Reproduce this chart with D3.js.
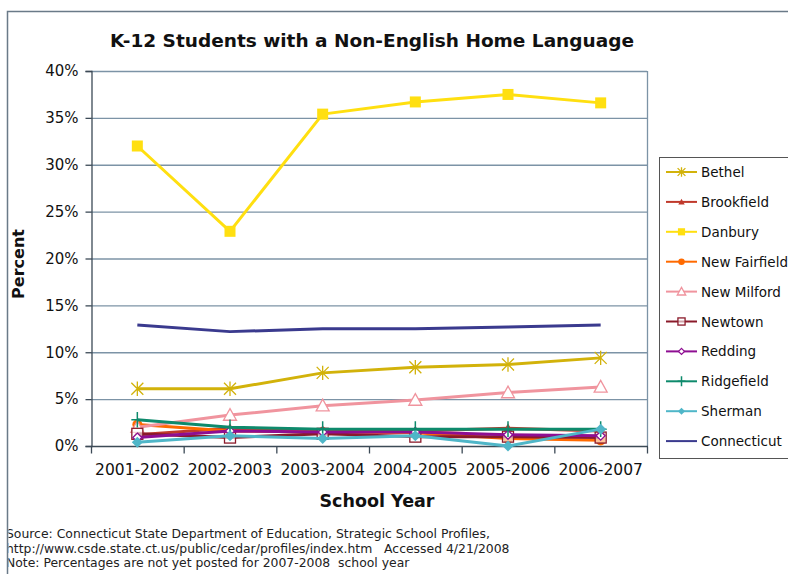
<!DOCTYPE html>
<html>
<head>
<meta charset="utf-8">
<script src="https://cdn.jsdelivr.net/npm/d3@7"></script>
<style>
  html, body { margin: 0; padding: 0; background: #fff; }
  svg { display: block; }
</style>
</head>
<body>
<svg id="chart" width="788" height="574"></svg>
<script>
// School years on the x axis
const years = ["2001-2002", "2002-2003", "2003-2004", "2004-2005", "2005-2006", "2006-2007"];

// Percent of K-12 students with a non-English home language, per district
const bethel       = [6.1, 6.1, 7.8, 8.4, 8.7, 9.4];
const brookfield   = [1.2, 1.9, 1.7, 1.6, 1.9, 1.6];
const danbury      = [32.0, 22.9, 35.4, 36.7, 37.5, 36.6];
const newFairfield = [2.3, 1.6, 1.5, 1.4, 0.8, 0.6];
const newMilford   = [2.0, 3.3, 4.3, 4.9, 5.7, 6.3];
const newtown      = [1.3, 0.9, 1.3, 1.0, 1.0, 0.9];
const redding      = [0.9, 1.6, 1.5, 1.5, 1.2, 1.1];
const ridgefield   = [2.8, 2.0, 1.8, 1.8, 1.8, 1.8];
const sherman      = [0.4, 1.1, 0.8, 1.1, 0.0, 1.8];
const connecticut  = [12.9, 12.2, 12.5, 12.5, 12.7, 12.9];

// Y axis tick values (percent)
const yTicks = [0, 5, 10, 15, 20, 25, 30, 35, 40];

const seriesNames = ["Bethel", "Brookfield", "Danbury", "New Fairfield", "New Milford",
                     "Newtown", "Redding", "Ridgefield", "Sherman", "Connecticut"];
const seriesValues = [bethel, brookfield, danbury, newFairfield, newMilford,
                      newtown, redding, ridgefield, sherman, connecticut];

// Styling per series: line colour and marker type
const styles = {
  "Bethel":        { color: "#d2b20a", marker: "asterisk" },
  "Brookfield":    { color: "#c0392b", marker: "triangleFilled" },
  "Danbury":       { color: "#ffdf10", marker: "squareFilled" },
  "New Fairfield": { color: "#ff6a00", marker: "circle" },
  "New Milford":   { color: "#f0949e", marker: "triangleOpen" },
  "Newtown":       { color: "#8a1a2a", marker: "squareOpen" },
  "Redding":       { color: "#8e0e92", marker: "diamondOpen" },
  "Ridgefield":    { color: "#0e8a6c", marker: "plus" },
  "Sherman":       { color: "#4fb6c8", marker: "diamondFilled" },
  "Connecticut":   { color: "#3a3a8e", marker: "none" }
};

const svg = d3.select("#chart");

// Outer chart frame
svg.append("rect")
  .attr("x", 7.5).attr("y", 11.5)
  .attr("width", 800).attr("height", 600)
  .attr("fill", "#fff")
  .attr("stroke", "#6a7a88").attr("stroke-width", 1.5);

const plot = { left: 91, right: 647, top: 71, bottom: 446 };

const x = d3.scaleBand().domain(years).range([plot.left, plot.right]);
const y = d3.scaleLinear().domain([0, 40]).range([plot.bottom, plot.top]);

// Horizontal gridlines
svg.append("g")
  .selectAll("line")
  .data(yTicks.filter(d => d > 0))
  .join("line")
  .attr("x1", plot.left).attr("x2", plot.right)
  .attr("y1", d => y(d) + 0.5).attr("y2", d => y(d) + 0.5)
  .attr("stroke", "#7c93a6").attr("stroke-width", 1.3);

// Right border of plot area
svg.append("line")
  .attr("x1", plot.right + 0.5).attr("x2", plot.right + 0.5)
  .attr("y1", plot.top).attr("y2", plot.bottom)
  .attr("stroke", "#7c93a6").attr("stroke-width", 1.3);

// Y axis
const yAxis = svg.append("g")
  .attr("transform", `translate(${plot.left + 0.5},0)`)
  .call(d3.axisLeft(y).tickValues(yTicks).tickFormat(d => d + "%").tickSize(6).tickPadding(7));
yAxis.select(".domain").attr("stroke", "#3c4a56").attr("stroke-width", 1.3);
yAxis.selectAll(".tick line").attr("stroke", "#3c4a56").attr("stroke-width", 1.3);
yAxis.selectAll(".tick text")
  .attr("font-family", "DejaVu Sans, Verdana, sans-serif")
  .attr("font-size", 15).attr("fill", "#111");

// X axis: ticks at category boundaries
const xAxisG = svg.append("g")
  .attr("transform", `translate(0,${plot.bottom + 0.5})`);
xAxisG.append("line")
  .attr("x1", plot.left).attr("x2", plot.right + 1)
  .attr("stroke", "#3c4a56").attr("stroke-width", 1.3);
const boundaries = years.map(d => x(d)).concat([x(years[years.length - 1]) + x.bandwidth()]);
xAxisG.selectAll("line.tk")
  .data(boundaries)
  .join("line").attr("class", "tk")
  .attr("x1", d => d + 0.5).attr("x2", d => d + 0.5)
  .attr("y1", 0).attr("y2", 7)
  .attr("stroke", "#3c4a56").attr("stroke-width", 1.3);
xAxisG.selectAll("text")
  .data(years)
  .join("text")
  .attr("x", d => x(d) + x.bandwidth() / 2)
  .attr("y", 28)
  .attr("text-anchor", "middle")
  .attr("font-family", "DejaVu Sans, Verdana, sans-serif")
  .attr("font-size", 15.5).attr("fill", "#111")
  .text(d => d);

// Series lines and markers
const line = d3.line()
  .x((d, i) => x(years[i]) + x.bandwidth() / 2)
  .y(d => y(d));

function drawMarker(g, type, color, size) {
  const s = size;
  switch (type) {
    case "asterisk":
      g.append("path")
        .attr("d", `M${-s},${-s}L${s},${s}M${-s},${s}L${s},${-s}M0,${-s * 1.2}L0,${s * 1.2}`)
        .attr("stroke", color).attr("stroke-width", 1.3).attr("fill", "none");
      break;
    case "plus":
      g.append("path")
        .attr("d", `M${-s},0L${s},0M0,${-s * 1.3}L0,${s * 1.3}`)
        .attr("stroke", color).attr("stroke-width", 1.5).attr("fill", "none");
      break;
    case "triangleFilled":
      g.append("path").attr("d", `M0,${-s}L${s},${s * 0.8}L${-s},${s * 0.8}Z`).attr("fill", color);
      break;
    case "triangleOpen":
      g.append("path").attr("d", `M0,${-s}L${s},${s * 0.8}L${-s},${s * 0.8}Z`)
        .attr("fill", "#fff").attr("stroke", color).attr("stroke-width", 1.3);
      break;
    case "squareFilled":
      g.append("rect").attr("x", -s).attr("y", -s).attr("width", 2 * s).attr("height", 2 * s).attr("fill", color);
      break;
    case "squareOpen":
      g.append("rect").attr("x", -s).attr("y", -s).attr("width", 2 * s).attr("height", 2 * s)
        .attr("fill", "#fff").attr("fill-opacity", 0.6).attr("stroke", color).attr("stroke-width", 1.3);
      break;
    case "circle":
      g.append("circle").attr("r", s).attr("fill", color);
      break;
    case "diamondFilled":
      g.append("path").attr("d", `M0,${-s}L${s},0L0,${s}L${-s},0Z`).attr("fill", color);
      break;
    case "diamondOpen":
      g.append("path").attr("d", `M0,${-s}L${s},0L0,${s}L${-s},0Z`)
        .attr("fill", "#fff").attr("stroke", color).attr("stroke-width", 1.3);
      break;
  }
}

const markerSize = {
  asterisk: 6, plus: 6, triangleFilled: 5, triangleOpen: 6.5, squareFilled: 5.5,
  squareOpen: 5.5, circle: 5, diamondFilled: 5.5, diamondOpen: 4.5, none: 0
};

const seriesG = svg.append("g");
seriesNames.forEach((name, si) => {
  const st = styles[name];
  const vals = seriesValues[si];
  const g = seriesG.append("g");
  g.append("path")
    .datum(vals)
    .attr("d", line)
    .attr("fill", "none")
    .attr("stroke", st.color)
    .attr("stroke-width", 3)
    .attr("stroke-linejoin", "round");
  if (st.marker !== "none") {
    vals.forEach((v, i) => {
      const mg = g.append("g")
        .attr("transform", `translate(${x(years[i]) + x.bandwidth() / 2},${y(v)})`);
      drawMarker(mg, st.marker, st.color, markerSize[st.marker]);
    });
  }
});

// Title
svg.append("text")
  .attr("x", 372).attr("y", 47)
  .attr("text-anchor", "middle")
  .attr("font-family", "DejaVu Sans, Verdana, sans-serif")
  .attr("font-weight", "bold").attr("font-size", 18.5)
  .attr("fill", "#111")
  .text("K-12 Students with a Non-English Home Language");

// Axis titles
svg.append("text")
  .attr("transform", "translate(24,264) rotate(-90)")
  .attr("text-anchor", "middle")
  .attr("font-family", "DejaVu Sans, Verdana, sans-serif")
  .attr("font-weight", "bold").attr("font-size", 16)
  .attr("fill", "#111")
  .text("Percent");

svg.append("text")
  .attr("x", 377).attr("y", 507)
  .attr("text-anchor", "middle")
  .attr("font-family", "DejaVu Sans, Verdana, sans-serif")
  .attr("font-weight", "bold").attr("font-size", 17.5)
  .attr("fill", "#111")
  .text("School Year");

// Legend
const legend = svg.append("g");
legend.append("rect")
  .attr("x", 659.5).attr("y", 157.5)
  .attr("width", 140).attr("height", 301)
  .attr("fill", "#fff").attr("stroke", "#555").attr("stroke-width", 1);
seriesNames.forEach((name, i) => {
  const st = styles[name];
  const ly = 172 + i * 29.9;
  const g = legend.append("g").attr("transform", `translate(0,${ly})`);
  g.append("line")
    .attr("x1", 666).attr("x2", 697).attr("y1", 0).attr("y2", 0)
    .attr("stroke", st.color).attr("stroke-width", 2);
  if (st.marker !== "none") {
    const mg = g.append("g").attr("transform", "translate(681.5,0)");
    drawMarker(mg, st.marker, st.color, Math.max(3, markerSize[st.marker] * 0.65));
  }
  g.append("text")
    .attr("x", 701).attr("y", 5)
    .attr("font-family", "DejaVu Sans, Verdana, sans-serif")
    .attr("font-size", 13.5).attr("fill", "#111")
    .text(name);
});

// Source notes
const notes = [
  "Source: Connecticut State Department of Education, Strategic School Profiles,",
  "http://www.csde.state.ct.us/public/cedar/profiles/index.htm   Accessed 4/21/2008",
  "Note: Percentages are not yet posted for 2007-2008  school year"
];
const clip = svg.append("clipPath").attr("id", "frameClip");
clip.append("rect").attr("x", 8.5).attr("y", 12).attr("width", 800).attr("height", 600);
svg.append("g").attr("clip-path", "url(#frameClip)")
  .selectAll("text")
  .data(notes)
  .join("text")
  .attr("x", 6).attr("y", (d, i) => 538 + i * 14.5)
  .attr("xml:space", "preserve")
  .style("white-space", "pre")
  .attr("font-family", "DejaVu Sans, Tahoma, sans-serif")
  .attr("font-size", 12.4).attr("fill", "#222")
  .text(d => d);
</script>
</body>
</html>
